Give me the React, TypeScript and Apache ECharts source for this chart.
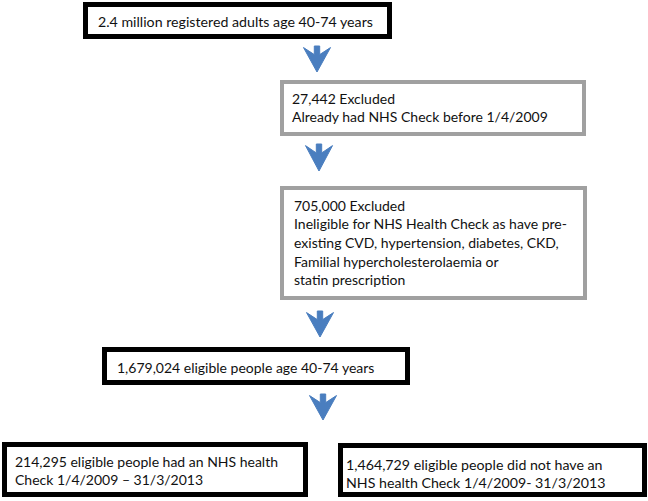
import React, { useEffect, useRef } from "react";
import * as echarts from "echarts";

// Flowchart content
const boxTexts: string[][] = [
  ["2.4 million registered adults age 40-74 years"],
  ["27,442 Excluded", "Already had NHS Check before 1/4/2009"],
  [
    "705,000 Excluded",
    "Ineligible for NHS Health Check as have pre-",
    "existing CVD, hypertension, diabetes, CKD,",
    "Familial hypercholesterolaemia or",
    "statin prescription",
  ],
  ["1,679,024 eligible people age 40-74 years"],
  ["214,295 eligible people had an NHS health", "Check 1/4/2009 \u2013 31/3/2013"],
  ["1,464,729 eligible people did not have an", "NHS health Check 1/4/2009- 31/3/2013"],
];
const boxKinds: string[] = ["main", "excl", "excl", "main", "main", "main"];

// layout (outer edges) — positions only
const layout = [
  { x0: 83, y0: 2, x1: 392, y1: 39, tx: 98, ty: 21, fs: 14.2 },
  { x0: 280, y0: 80, x1: 586, y1: 136, tx: 292, ty: 98, fs: 14 },
  { x0: 280, y0: 186, x1: 587, y1: 300, tx: 294, ty: 205, fs: 14 },
  { x0: 102, y0: 347, x1: 410, y1: 385, tx: 117, ty: 367, fs: 14 },
  { x0: 2, y0: 442, x1: 308, y1: 497, tx: 15, ty: 461, fs: 14 },
  { x0: 338, y0: 443, x1: 647, y1: 497, tx: 346, ty: 464, fs: 14.2 },
];
const arrows = [
  { cx: 317, y0: 46, y1: 72 },
  { cx: 319, y0: 144, y1: 171 },
  { cx: 320, y0: 311, y1: 337 },
  { cx: 323, y0: 394, y1: 420 },
];

const FONT = "Lato";
const LH = 18.7;

function arrowPoints(cx: number, y0: number, y1: number): number[][] {
  const w = 27;
  const h = y1 - y0;
  const l = cx - w / 2;
  return [
    [l + 0.4 * w, y0],
    [l + 0.6 * w, y0],
    [l + 0.6 * w, y0 + 0.33 * h],
    [l + w, y0 + 0.06 * h],
    [cx, y1],
    [l, y0 + 0.06 * h],
    [l + 0.4 * w, y0 + 0.33 * h],
  ];
}

export default function App() {
  const ref = useRef<HTMLDivElement>(null);
  useEffect(() => {
    document.body.style.margin = "0";
    if (!ref.current) return;
    const chart = echarts.init(ref.current, null, { renderer: "svg" });
    const elements: any[] = [];
    boxTexts.forEach((lines, i) => {
      const L = layout[i];
      const main = boxKinds[i] === "main";
      const lw = main ? 5 : 4;
      elements.push({
        type: "rect",
        shape: {
          x: L.x0 + lw / 2,
          y: L.y0 + lw / 2,
          width: L.x1 - L.x0 - lw,
          height: L.y1 - L.y0 - lw,
        },
        style: { fill: "#ffffff", stroke: main ? "#000000" : "#a0a0a0", lineWidth: lw },
      });
      lines.forEach((t, j) => {
        elements.push({
          type: "text",
          x: L.tx,
          y: L.ty + j * LH,
          style: {
            text: t,
            fill: "#111111",
            font: `${L.fs}px ${FONT}`,
            textAlign: "left",
            textVerticalAlign: "middle",
          },
        });
      });
    });
    arrows.forEach((a) => {
      elements.push({
        type: "polygon",
        shape: { points: arrowPoints(a.cx, a.y0, a.y1) },
        style: { fill: "#4a7ebf", stroke: "#4a7ebf", lineWidth: 1 },
      });
    });
    chart.setOption({
      animation: false,
      backgroundColor: "#ffffff",
      graphic: { elements },
    });
    return () => chart.dispose();
  }, []);
  return <div ref={ref} style={{ width: 648, height: 501 }} />;
}
